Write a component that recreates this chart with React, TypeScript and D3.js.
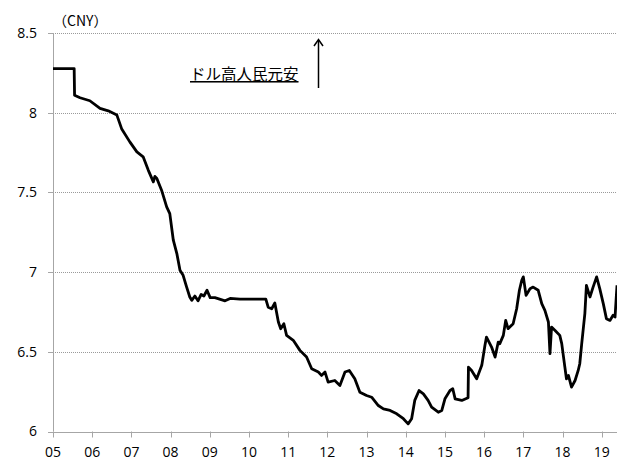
import * as d3 from "d3";

// USD/CNY (fractional year, CNY per USD)
const years = [
  2005.0, 2005.54, 2005.55, 2005.69, 2005.94, 2006.2, 2006.41, 2006.63, 2006.75, 2006.96,
  2007.14, 2007.3, 2007.43, 2007.56, 2007.6, 2007.65, 2007.77, 2007.9, 2007.98, 2008.07,
  2008.16, 2008.24, 2008.32, 2008.41, 2008.49, 2008.54, 2008.62, 2008.7, 2008.78, 2008.85,
  2008.93, 2009.01, 2009.13, 2009.39, 2009.52, 2009.77, 2010.03, 2010.28, 2010.43, 2010.49,
  2010.58, 2010.66, 2010.75, 2010.81, 2010.89, 2010.96, 2011.13, 2011.3, 2011.47, 2011.6,
  2011.77, 2011.85, 2011.94, 2012.02, 2012.19, 2012.32, 2012.45, 2012.56, 2012.7, 2012.83,
  2013.0, 2013.13, 2013.3, 2013.43, 2013.6, 2013.77, 2013.94, 2014.06, 2014.15, 2014.23,
  2014.34, 2014.45, 2014.57, 2014.66, 2014.83, 2014.92, 2015.0, 2015.13, 2015.2, 2015.26,
  2015.43, 2015.59, 2015.6, 2015.68, 2015.81, 2015.94, 2016.02, 2016.06, 2016.19, 2016.28,
  2016.36, 2016.4, 2016.49, 2016.55, 2016.61, 2016.74, 2016.83, 2016.9, 2016.96, 2017.0,
  2017.07, 2017.17, 2017.25, 2017.38, 2017.47, 2017.55, 2017.64, 2017.68, 2017.72, 2017.81,
  2017.93, 2017.98, 2018.06, 2018.1, 2018.15, 2018.23, 2018.32, 2018.4, 2018.44, 2018.49,
  2018.57, 2018.61, 2018.7, 2018.78, 2018.87, 2018.95, 2019.04, 2019.12, 2019.21, 2019.29,
  2019.34, 2019.39,
];
const rates = [
  8.277, 8.277, 8.11, 8.094, 8.075, 8.027, 8.012, 7.985, 7.9, 7.817,
  7.754, 7.723, 7.64, 7.566, 7.6, 7.587, 7.514, 7.409, 7.367, 7.2,
  7.116, 7.011, 6.98, 6.906, 6.844, 6.823, 6.85, 6.82, 6.86, 6.85,
  6.886, 6.84, 6.84, 6.82, 6.835, 6.83, 6.83, 6.83, 6.83, 6.78,
  6.77, 6.806, 6.687, 6.645, 6.676, 6.603, 6.572, 6.509, 6.467, 6.394,
  6.373, 6.352, 6.373, 6.31, 6.32, 6.289, 6.373, 6.383, 6.331, 6.247,
  6.226, 6.215, 6.163, 6.142, 6.132, 6.111, 6.08, 6.048, 6.08, 6.195,
  6.257, 6.236, 6.195, 6.153, 6.121, 6.132, 6.205, 6.257, 6.268, 6.205,
  6.195, 6.212, 6.404, 6.383, 6.331, 6.415, 6.54, 6.592, 6.53, 6.467,
  6.561, 6.551, 6.603, 6.697, 6.645, 6.676, 6.77, 6.886, 6.949, 6.97,
  6.854, 6.896, 6.906, 6.886, 6.802, 6.76, 6.687, 6.488, 6.655, 6.634,
  6.603, 6.551, 6.404, 6.331, 6.352, 6.278, 6.32, 6.383, 6.425, 6.551,
  6.739, 6.917, 6.844, 6.906, 6.97, 6.896, 6.802, 6.708, 6.697, 6.729,
  6.718, 6.917,
];

const yTicks = [6, 6.5, 7, 7.5, 8, 8.5];
const yTickLabels = ["6", "6.5", "7", "7.5", "8", "8.5"];
const xTicks = d3.range(2005, 2020);
const xTickLabels = ["05", "06", "07", "08", "09", "10", "11", "12", "13", "14", "15", "16", "17", "18", "19"];
const unitLabel = "（CNY）";
const noteText = "ドル高人民元安";

const width = 617;
const height = 464;
const marginLeft = 53;
const marginRight = 0;
const marginTop = 33;
const marginBottom = 32.5;

export default function App() {
  const x = d3.scaleLinear([2005, 2019.39], [marginLeft, width - marginRight]);
  const y = d3.scaleLinear([6, 8.5], [height - marginBottom, marginTop]);
  const points = years.map((yr, i) => [yr, rates[i]] as [number, number]);
  const line = d3.line<[number, number]>((d) => x(d[0]), (d) => y(d[1]));
  const font = "'Open Sans', 'Liberation Sans', Arial, sans-serif";
  const axisColor = "#a6a6a6";

  return (
    <svg
      width={width}
      height={height}
      style={{ position: "absolute", left: 0, top: 0, background: "#fff" }}
    >
      {/* grid */}
      {yTicks.slice(1).map((t) => (
        <line
          key={t}
          x1={marginLeft}
          x2={width - marginRight}
          y1={Math.round(y(t)) + 0.5}
          y2={Math.round(y(t)) + 0.5}
          stroke="#9a9a9a"
          strokeWidth={1}
          strokeDasharray="1,1"
        />
      ))}
      {/* y axis */}
      <line x1={marginLeft + 0.5} x2={marginLeft + 0.5} y1={marginTop} y2={y(6)} stroke={axisColor} />
      {yTicks.map((t, i) => (
        <g key={t}>
          <line x1={marginLeft - 5} x2={marginLeft} y1={Math.round(y(t)) + 0.5} y2={Math.round(y(t)) + 0.5} stroke={axisColor} />
          <text x={37} y={y(t)} dy="0.35em" textAnchor="end" fontSize={14} fontFamily={font} fill="#000">
            {yTickLabels[i]}
          </text>
        </g>
      ))}
      {/* x axis */}
      <line x1={marginLeft} x2={width - marginRight} y1={Math.round(y(6)) + 0.5} y2={Math.round(y(6)) + 0.5} stroke={axisColor} />
      {xTicks.map((t, i) => (
        <g key={t}>
          <line x1={Math.round(x(t)) + 0.5} x2={Math.round(x(t)) + 0.5} y1={y(6)} y2={y(6) + 6} stroke={axisColor} />
          <text x={x(t)} y={y(6) + 21} dy="0.35em" textAnchor="middle" fontSize={14} fontFamily={font} fill="#000">
            {xTickLabels[i]}
          </text>
        </g>
      ))}
      {/* series */}
      <path d={line(points) ?? ""} fill="none" stroke="#000" strokeWidth={2.8} strokeLinejoin="round" />
      {/* labels */}
      <text x={53} y={26} fontSize={14} fontFamily="'Noto Sans CJK JP', sans-serif" fill="#000">
        {unitLabel}
      </text>
      <text
        x={190}
        y={80}
        fontSize={15.5}
        fontFamily="'Noto Sans CJK JP', sans-serif"
        fill="#000"
        textDecoration="underline"
      >
        {noteText}
      </text>
      <line x1={318.5} x2={318.5} y1={88} y2={40} stroke="#000" strokeWidth={1.5} />
      <path d="M314,46 L318.5,39.5 L323,46" fill="none" stroke="#000" strokeWidth={1.5} />
    </svg>
  );
}
